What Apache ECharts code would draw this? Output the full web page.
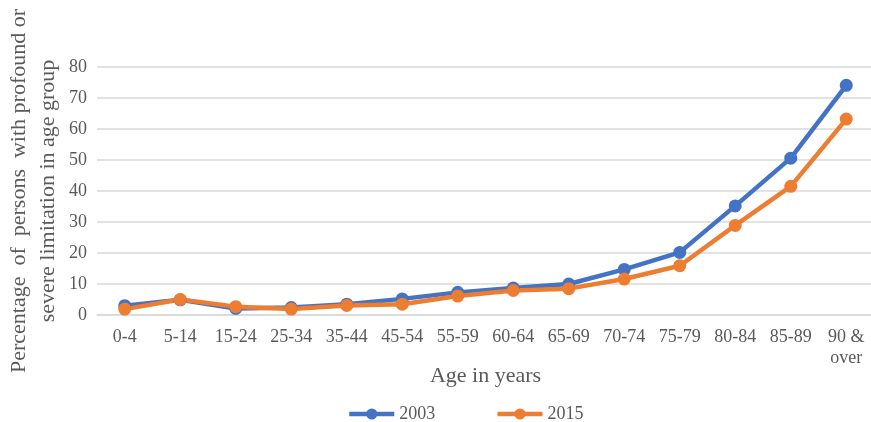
<!DOCTYPE html>
<html>
<head>
<meta charset="utf-8">
<script src="https://cdn.jsdelivr.net/npm/echarts@6/dist/echarts.min.js"></script>
<style>
  html, body { margin: 0; padding: 0; background: #fff; }
  #chart { width: 871px; height: 422px; }
</style>
</head>
<body>
<div id="chart"></div>
<script>
// Age groups and share of people with profound or severe limitation (%)
const ageGroups = ['0-4', '5-14', '15-24', '25-34', '35-44', '45-54', '55-59',
  '60-64', '65-69', '70-74', '75-79', '80-84', '85-89', '90 &\nover'];
const values2003 = [3.0, 4.9, 2.1, 2.4, 3.5, 5.2, 7.3, 8.7, 10.0, 14.7, 20.2, 35.2, 50.6, 74.1];
const values2015 = [1.9, 5.0, 2.7, 1.9, 3.1, 3.5, 6.1, 7.9, 8.5, 11.6, 15.9, 28.9, 41.5, 63.2];
const yTicks = { min: 0, max: 80, interval: 10 };

const serif = '"Liberation Serif", "Times New Roman", serif';
const textGrey = '#595959';

const chart = echarts.init(document.getElementById('chart'));

function lineSeries(name, data, color) {
  return {
    name: name,
    type: 'line',
    data: data,
    symbol: 'circle',
    symbolSize: 13,
    lineStyle: { width: 4.5, color: color },
    itemStyle: { color: color },
    emphasis: { disabled: true }
  };
}

chart.setOption({
  animation: false,
  grid: { left: 97, right: -3, top: 67, bottom: 107, containLabel: false, outerBoundsMode: 'none' },
  legend: {
    top: 400,
    left: 342,
    itemWidth: 45,
    itemHeight: 14,
    itemGap: 60,
    lineStyle: { width: 4.5 },
    textStyle: { fontFamily: serif, fontSize: 18, color: textGrey },
    data: ['2003', '2015']
  },
  xAxis: {
    type: 'category',
    data: ageGroups,
    boundaryGap: true,
    axisLine: { lineStyle: { color: '#d9d9d9', width: 1.5 } },
    axisTick: { show: false },
    axisLabel: {
      fontFamily: serif, fontSize: 18, color: textGrey,
      margin: 12, lineHeight: 21, interval: 0
    },
    name: 'Age in years',
    nameLocation: 'middle',
    nameGap: 50,
    nameMoveOverlap: false,
    nameTextStyle: { fontFamily: serif, fontSize: 22, color: textGrey }
  },
  yAxis: {
    type: 'value',
    min: yTicks.min,
    max: yTicks.max,
    interval: yTicks.interval,
    axisLine: { show: false },
    axisTick: { show: false },
    splitLine: { lineStyle: { color: '#d9d9d9', width: 1.5 } },
    axisLabel: { fontFamily: serif, fontSize: 18, color: textGrey, margin: 10 },
    name: 'Percentage  of  persons  with profound or\nsevere limitation in age group',
    nameLocation: 'middle',
    nameRotate: 90,
    nameGap: 34,
    nameMoveOverlap: false,
    nameTextStyle: { fontFamily: serif, fontSize: 22, color: textGrey, lineHeight: 29, align: 'center' }
  },
  series: [
    lineSeries('2003', values2003, '#4472C4'),
    lineSeries('2015', values2015, '#ED7D31')
  ]
});
</script>
</body>
</html>
